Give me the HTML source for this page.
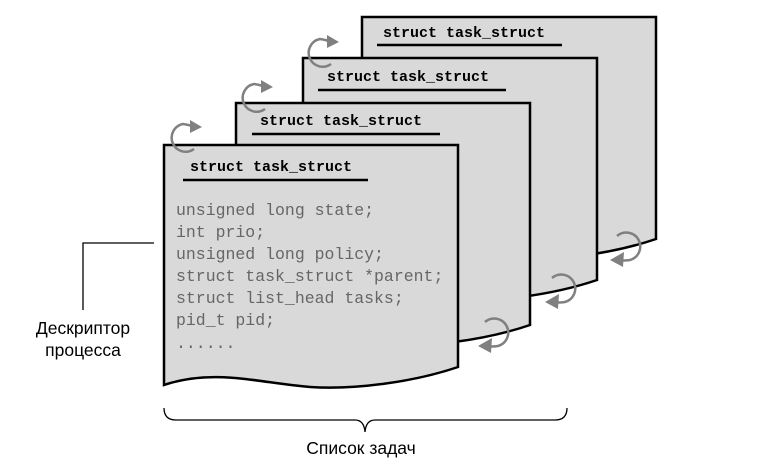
<!DOCTYPE html>
<html><head><meta charset="utf-8"><style>html,body{margin:0;padding:0;background:#fff}svg{display:block}</style></head><body>
<svg width="775" height="467" viewBox="0 0 775 467" xmlns="http://www.w3.org/2000/svg">
<defs>
<g id="page">
<path d="M0,0 H294 V222 C250,237 190,245 146,242 C95,238 50,223 0,240 Z" fill="#d9d9d9" stroke="#000" stroke-width="2.5"/>
</g>
<g id="tarr" fill="none" stroke="#808080" stroke-width="2.5">
<path d="M194,149 A14,14 0 1 1 183,124 Q190,125 194,127"/>
<path d="M190,120 L202,127 L190,133 Z" fill="#808080" stroke="none"/>
</g>
<g id="barr" fill="none" stroke="#808080" stroke-width="2.5">
<path d="M485,322 A14,14 0 1 1 498,346 Q492,347 486,346"/>
<path d="M492,338 L478,346 L491,353 Z" fill="#808080" stroke="none"/>
</g>
</defs>
<use href="#page" x="362" y="17"/>
<use href="#page" x="303" y="58"/>
<use href="#page" x="236" y="103"/>
<use href="#page" x="164" y="145"/>
<use href="#tarr"/>
<use href="#tarr" x="71" y="-40"/>
<use href="#tarr" x="137" y="-85"/>
<use href="#barr"/>
<use href="#barr" x="67" y="-44"/>
<use href="#barr" x="132" y="-86"/>
<g font-family="Liberation Mono, monospace" font-weight="bold" font-size="15" fill="#000">
<text x="190" y="171">struct task_struct</text>
<text x="260" y="125">struct task_struct</text>
<text x="327" y="81">struct task_struct</text>
<text x="383" y="37">struct task_struct</text>
</g>
<g stroke="#000" stroke-width="2.5">
<line x1="183" y1="180" x2="368" y2="180"/>
<line x1="252" y1="134" x2="440" y2="134"/>
<line x1="318" y1="90" x2="506" y2="90"/>
<line x1="377" y1="45" x2="562" y2="45"/>
</g>
<g font-family="Liberation Mono, monospace" font-size="16.5" fill="#666">
<text x="176" y="215">unsigned long state;</text>
<text x="176" y="237">int prio;</text>
<text x="176" y="259">unsigned long policy;</text>
<text x="176" y="281">struct task_struct *parent;</text>
<text x="176" y="303">struct list_head tasks;</text>
<text x="176" y="325">pid_t pid;</text>
<text x="176" y="348">......</text>
</g>
<path d="M154,243 H83 V310" fill="none" stroke="#000" stroke-width="1.3"/>
<g font-family="Liberation Sans, sans-serif" font-size="17.5" fill="#000" text-anchor="middle">
<text x="83" y="334">Дескриптор</text>
<text x="83" y="356">процесса</text>
<text x="361" y="454">Список задач</text>
</g>
<path d="M164,408 Q164,420 176,420 H355 Q364,420 365,432 Q366,420 375,420 H555 Q567,420 567,408" fill="none" stroke="#000" stroke-width="1.3"/>
</svg>
</body></html>
